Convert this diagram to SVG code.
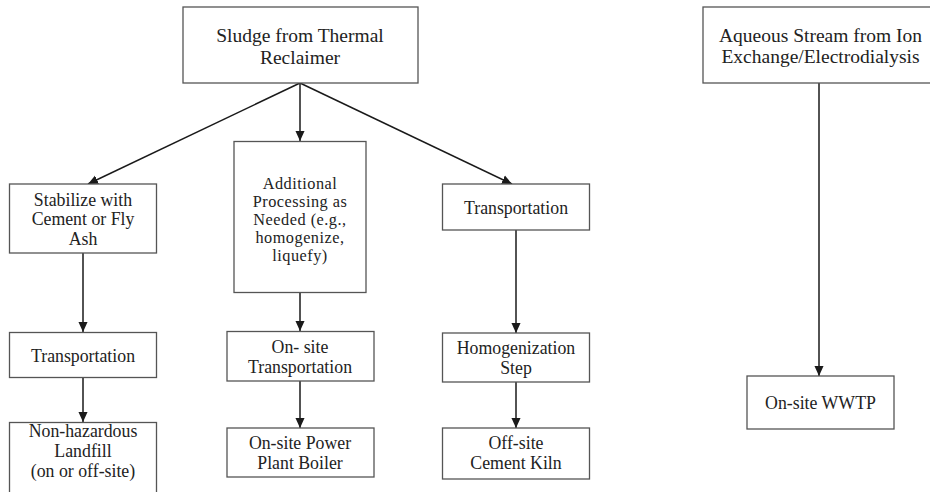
<svg xmlns="http://www.w3.org/2000/svg" width="930" height="492" viewBox="0 0 930 492">
<defs>
<marker id="ah" markerWidth="10" markerHeight="12" refX="11" refY="5" orient="auto" markerUnits="userSpaceOnUse" viewBox="0 0 11 10">
<path d="M0,0 L11,5 L0,10 Z" fill="#1a1a1a"/>
</marker>
<style>
.box{fill:#fff;stroke:#555;stroke-width:1.3}
text{font-family:'Liberation Serif','Times New Roman',Times,serif;font-size:17.8px;fill:#222;text-anchor:middle}
.L{font-size:19.5px}
.s{font-size:16.3px;letter-spacing:0.5px}
.c{stroke:#1a1a1a;stroke-width:1.5;fill:none;marker-end:url(#ah)}
</style>
</defs>
<rect width="930" height="492" fill="#fff"/>
<g id="connectors">
<line class="c" x1="300" y1="83" x2="300" y2="141"/>
<line class="c" x1="300" y1="83" x2="88" y2="184"/>
<line class="c" x1="300" y1="83" x2="512" y2="184"/>
<line class="c" x1="83" y1="253" x2="83" y2="332"/>
<line class="c" x1="83" y1="378" x2="83" y2="422"/>
<line class="c" x1="300" y1="292" x2="300" y2="331"/>
<line class="c" x1="300" y1="381" x2="300" y2="428"/>
<line class="c" x1="516" y1="230" x2="516" y2="333"/>
<line class="c" x1="516" y1="382" x2="516" y2="428"/>
<line class="c" x1="819" y1="83" x2="819" y2="376"/>
</g>
<g font-family="Liberation Serif, Times New Roman, serif">
<g id="sludge">
<rect class="box" x="183" y="7" width="235" height="76"/>
<text class="L" x="300" y="42">Sludge from Thermal</text>
<text class="L" x="300" y="63.5">Reclaimer</text>
</g>
<g id="stabilize">
<rect class="box" x="9.5" y="184" width="147" height="69"/>
<text x="83" y="205.5">Stabilize with</text>
<text x="83" y="225">Cement or Fly</text>
<text x="83" y="244.5">Ash</text>
</g>
<g id="additional">
<rect class="box" x="234" y="141.5" width="132" height="151"/>
<text class="s" x="300" y="188.5">Additional</text>
<text class="s" x="300" y="206.5">Processing as</text>
<text class="s" x="300" y="224.5">Needed (e.g.,</text>
<text class="s" x="300" y="242.5">homogenize,</text>
<text class="s" x="300" y="260.5">liquefy)</text>
</g>
<g id="transport-right">
<rect class="box" x="442.5" y="184" width="147" height="46"/>
<text x="516" y="213.5">Transportation</text>
</g>
<g id="transport-left">
<rect class="box" x="9.5" y="332.5" width="147" height="45"/>
<text x="83" y="362">Transportation</text>
</g>
<g id="onsite-transport">
<rect class="box" x="227" y="331.5" width="147" height="49.5"/>
<text x="300" y="352.5">On- site</text>
<text x="300" y="372.5">Transportation</text>
</g>
<g id="homogenization">
<rect class="box" x="442.5" y="333" width="147" height="49"/>
<text x="516" y="354">Homogenization</text>
<text x="516" y="374">Step</text>
</g>
<g id="landfill">
<rect class="box" x="9.5" y="422.5" width="147" height="72"/>
<text x="83" y="436.5">Non-hazardous</text>
<text x="83" y="456.5">Landfill</text>
<text x="83" y="476.5">(on or off-site)</text>
</g>
<g id="boiler">
<rect class="box" x="227" y="428" width="147" height="49"/>
<text x="300" y="448.5">On-site Power</text>
<text x="300" y="468.5">Plant Boiler</text>
</g>
<g id="kiln">
<rect class="box" x="442.5" y="428" width="147" height="51"/>
<text x="516" y="448.5">Off-site</text>
<text x="516" y="468.5">Cement Kiln</text>
</g>
<g id="aqueous">
<rect class="box" x="703" y="7" width="236" height="76"/>
<text class="L" x="820.5" y="41.5">Aqueous Stream from Ion</text>
<text class="L" x="820.5" y="63">Exchange/Electrodialysis</text>
</g>
<g id="wwtp">
<rect class="box" x="747" y="376" width="147" height="53"/>
<text x="820.5" y="409">On-site WWTP</text>
</g>
</g>
</svg>
